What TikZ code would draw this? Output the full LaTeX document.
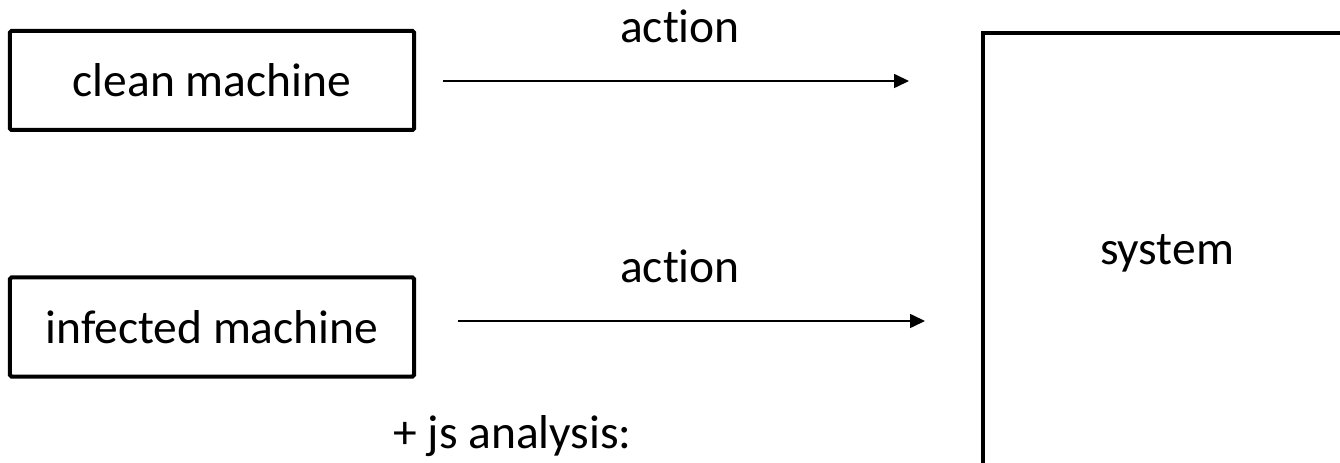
\documentclass[tikz,border=0pt]{standalone}
\usepackage{fontspec}
\setmainfont{Carlito}[Ligatures=NoCommon]
\usetikzlibrary{arrows.meta}
\begin{document}
\begin{tikzpicture}[x=1bp,y=-1bp,
  txt/.style={font=\fontsize{47.5bp}{57bp}\selectfont, inner sep=0pt},
  lbl/.style={txt, anchor=base},
  boxtxt/.style={txt, text height=32bp, text depth=0bp},
  box/.style={draw, line width=4bp, rounded corners=1.5bp, boxtxt, minimum width=404bp, minimum height=99bp},
  sysbox/.style={draw, line width=4.5bp, boxtxt, minimum width=368bp, minimum height=432bp},
  flow/.style={line width=1.6bp, -{Triangle[length=15bp,width=14bp]}}]
\useasboundingbox (0,0) rectangle (1340,463);
\clip (0,0) rectangle (1340,463);
\fill[white] (0,0) rectangle (1340,463);
% source machines
\node[box] (clean) at (212,80.5) {clean machine};
\node[box] (infected) at (212,327) {infected machine};
% system under observation, running off the page edge
\node[sysbox] (sys) at (1167,249) {system};
% arrow end points
\coordinate (a1s) at (443,81);
\coordinate (a1e) at (909,81);
\coordinate (a2s) at (458,321);
\coordinate (a2e) at (925,321);
\draw[flow] (a1s) -- (a1e);
\draw[flow] (a2s) -- (a2e);
\node[lbl] (lab1) at (680,43) {action};
\node[lbl] (lab2) at (680,283) {action};
\node[lbl] (js) at (512.5,448) {+ js analysis:};
\end{tikzpicture}
\end{document}
